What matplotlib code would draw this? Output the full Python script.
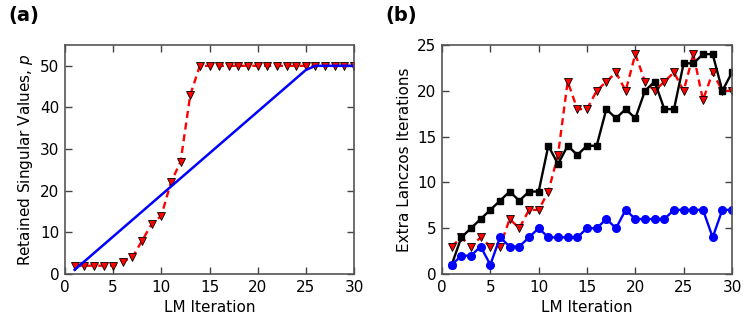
import matplotlib.pyplot as plt
import numpy as np

# LM iterations
iters = np.arange(1, 31)

# panel (a): retained singular values
p_adaptive = [2, 2, 2, 2, 2, 3, 4, 8, 12, 14, 22, 27, 43, 50, 50,
              50, 50, 50, 50, 50, 50, 50, 50, 50, 50, 50, 50, 50, 50, 50]
p_linear = [1, 3, 5, 7, 9, 11, 13, 15, 17, 19, 21, 23, 25, 27, 29,
            31, 33, 35, 37, 39, 41, 43, 45, 47, 49, 50, 50, 50, 50, 50]

# panel (b): extra Lanczos iterations
lanczos_red = [3, 4, 3, 4, 3, 3, 6, 5, 7, 7, 9, 13, 21, 18, 18,
               20, 21, 22, 20, 24, 21, 20, 21, 22, 20, 24, 19, 22, 20, 20]
lanczos_black = [1, 4, 5, 6, 7, 8, 9, 8, 9, 9, 14, 12, 14, 13, 14,
                 14, 18, 17, 18, 17, 20, 21, 18, 18, 23, 23, 24, 24, 20, 22]
lanczos_blue = [1, 2, 2, 3, 1, 4, 3, 3, 4, 5, 4, 4, 4, 4, 5,
                5, 6, 5, 7, 6, 6, 6, 6, 7, 7, 7, 7, 4, 7, 7]

plt.rcParams['font.family'] = 'DejaVu Sans'
plt.rcParams['font.size'] = 11

fig = plt.figure(figsize=(7.48, 3.22), dpi=100)
ax1 = fig.add_axes([65 / 748, 1 - 274 / 322, 289 / 748, 229 / 322])
ax2 = fig.add_axes([442 / 748, 1 - 274 / 322, 290 / 748, 229 / 322])

tri = dict(marker='v', markersize=5.5, markerfacecolor='red',
           markeredgecolor='black', markeredgewidth=0.6)
dash = (3, 2)

ax1.plot(iters, p_adaptive, color='red', ls='--', dashes=dash, lw=1.7, **tri)
ax1.plot(iters, p_linear, color='blue', lw=1.8)
ax1.set_xlim(0, 30)
ax1.set_ylim(0, 55)
ax1.set_yticks(range(0, 51, 10))
ax1.set_xlabel('LM Iteration')
ax1.set_ylabel('Retained Singular Values, $p$')

ax2.plot(iters, lanczos_red, color='red', ls='--', dashes=dash, lw=1.7, **tri)
ax2.plot(iters, lanczos_black, color='black', lw=1.7, marker='s', markersize=5)
ax2.plot(iters, lanczos_blue, color='blue', lw=1.7, marker='o', markersize=5.5,
         markeredgecolor='blue')
ax2.set_xlim(0, 30)
ax2.set_ylim(0, 25)
ax2.set_yticks(range(0, 26, 5))
ax2.set_xlabel('LM Iteration')
ax2.set_ylabel('Extra Lanczos Iterations')

for ax in (ax1, ax2):
    ax.set_xticks(range(0, 31, 5))
    ax.tick_params(direction='in', top=True, right=True, length=5,
                   width=1, color='#444444', labelsize=11, pad=4)
    for s in ax.spines.values():
        s.set_color('#555555')
        s.set_linewidth(1.2)

fig.text(8 / 748, 1 - 16 / 322, '(a)', fontsize=14, fontweight='bold', va='center')
fig.text(385 / 748, 1 - 16 / 322, '(b)', fontsize=14, fontweight='bold', va='center')

fig.savefig('out.png', dpi=100)
